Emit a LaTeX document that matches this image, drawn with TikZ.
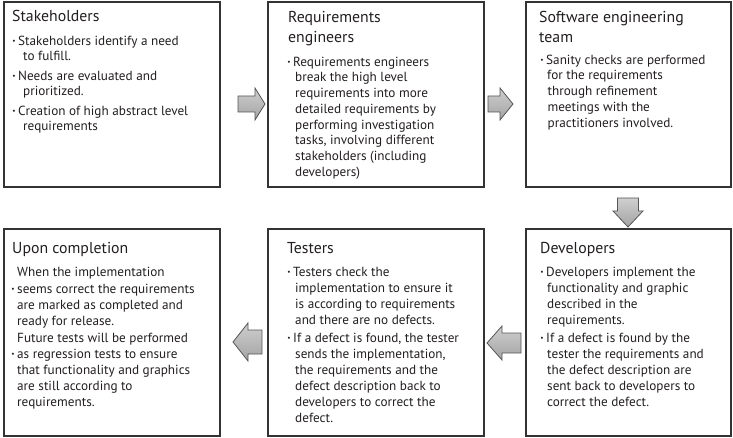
\documentclass[tikz,border=0pt]{standalone}
\usepackage{fontspec}
\usepackage{graphicx}
\setmainfont{PT Sans}
\definecolor{txt}{HTML}{231F20}
\definecolor{frame}{HTML}{333333}
\definecolor{arrline}{HTML}{555555}
\newcommand\bu{\llap{\raisebox{0.25ex}{\scalebox{0.55}{•}}\hspace{2.6pt}}}
\newcommand\ci[1]{\hspace*{#1}}
\tikzset{
  box/.style={draw=frame, line width=1.6pt, fill=white},
  title/.style={anchor=north west, inner sep=0pt, align=left, text=txt,
    font=\fontsize{15.8}{20}\selectfont},
  body/.style={anchor=north west, inner sep=0pt, align=left, text=txt,
    font=\fontsize{13.2}{15.7}\selectfont},
  bodyb/.style={body, font=\fontsize{13.2}{16.1}\selectfont},
  blockarrow/.style={draw=arrline, line width=0.8pt, top color=gray!38, bottom color=gray!72}
}
\begin{document}
\begin{tikzpicture}[x=1pt,y=-1pt]
\useasboundingbox (0,0) rectangle (733,438);
% boxes
\draw[box] (4,2) rectangle (220,187);
\draw[box] (268,2) rectangle (484,187);
\draw[box] (526,2) rectangle (731,187);
\draw[box] (4,229) rectangle (220,436);
\draw[box] (268,229) rectangle (484,436);
\draw[box] (526,229) rectangle (731,436);
% titles
\node[title] (t1) at (12,10.3) {Stakeholders};
\node[title] (t2) at (288,11.3) {Requirements\\engineers};
\node[title] (t3) at (539,11.3) {Software engineering\\team};
\node[title] (t4) at (12,242.3) {Upon completion};
\node[title] (t5) at (287,242.3) {Testers};
\node[title] (t6) at (540,242.3) {Developers};
% bodies
\node[body] (c1) at (18,35.7) {\bu Stakeholders identify a need\\
\ci{5pt}to fulfill.\\[3.5pt]
\bu Needs are evaluated and\\
\ci{5pt}prioritized.\\[3.5pt]
\bu Creation of high abstract level\\
\ci{5pt}requirements};
\node[body] (c2) at (293,56.7) {\bu Requirements engineers\\
\ci{2pt}break the high level\\
\ci{2pt}requirements into more\\
\ci{2pt}detailed requirements by\\
\ci{2pt}performing investigation\\
\ci{2pt}tasks, involving different\\
\ci{2pt}stakeholders (including\\
\ci{2pt}developers)};
\node[body] (c3) at (546,54.7) {\bu Sanity checks are performed\\
\ci{1pt}for the requirements\\
\ci{1.5pt}through refinement\\
\ci{1.5pt}meetings with the\\
\ci{1.5pt}practitioners involved.};
\node[bodyb] (c4) at (17,266.7) {When the implementation\\[0.8pt]
\bu seems correct the requirements\\
are marked as completed and\\
ready for release.\\[0.8pt]
Future tests will be performed\\
\bu as regression tests to ensure\\
that functionality and graphics\\
are still according to\\
requirements.};
\node[bodyb] (c5) at (293,266.7) {\bu Testers check the\\
\ci{2pt}implementation to ensure it\\
\ci{2pt}is according to requirements\\
\ci{2pt}and there are no defects.\\[1.5pt]
\bu If a defect is found, the tester\\
\ci{2pt}sends the implementation,\\
\ci{2pt}the requirements and the\\
\ci{2pt}defect description back to\\
\ci{2pt}developers to correct the\\
\ci{2pt}defect.};
\node[bodyb] (c6) at (546,266.7) {\bu Developers implement the\\
\ci{1pt}functionality and graphic\\
\ci{1pt}described in the\\
\ci{1pt}requirements.\\[1.5pt]
\bu If a defect is found by the\\
\ci{1pt}tester the requirements and\\
\ci{1pt}the defect description are\\
\ci{1pt}sent back to developers to\\
\ci{1pt}correct the defect.};
% block arrows
\draw[blockarrow] (238,96) -- (255,96) -- (255,88) -- (265,104) -- (255,120) -- (255,112) -- (238,112) -- cycle;
\draw[blockarrow] (488,96) -- (500,96) -- (500,88) -- (513,104) -- (500,120) -- (500,112) -- (488,112) -- cycle;
\draw[blockarrow] (617.5,198) -- (638.5,198) -- (638.5,211) -- (643,211) -- (628,227) -- (613,211) -- (617.5,211) -- cycle;
\draw[blockarrow] (521,333) -- (502,333) -- (502,326) -- (487,343) -- (502,360) -- (502,353) -- (521,353) -- cycle;
\draw[blockarrow] (262,330) -- (248,330) -- (248,323) -- (233,342) -- (248,361) -- (248,354) -- (262,354) -- cycle;
\end{tikzpicture}
\end{document}
